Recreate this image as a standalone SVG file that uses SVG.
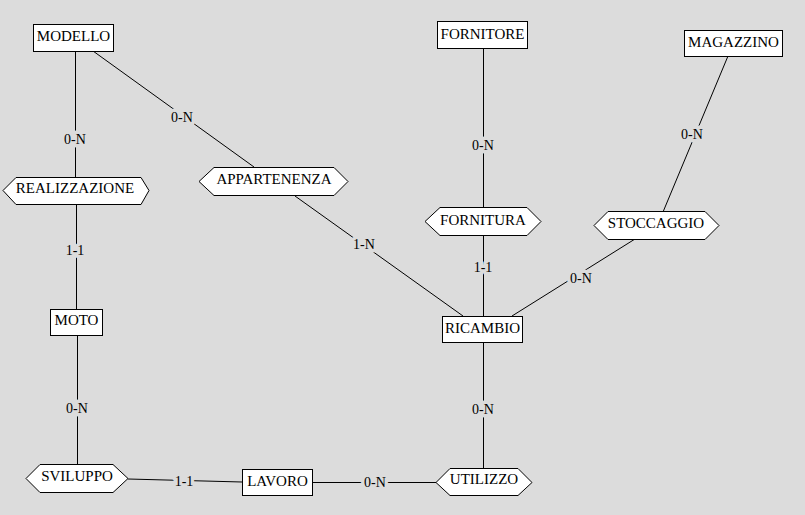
<svg xmlns="http://www.w3.org/2000/svg" width="805" height="515" viewBox="0 0 805 515">
<style>
.bg{fill:#dcdcdc}
.ent rect,.rel polygon{fill:#fff;stroke:#000;stroke-width:1}
.ent text,.rel text{font-family:"Liberation Serif","Times New Roman",serif;font-size:15px;fill:#000;text-anchor:middle}
.conn line{stroke:#000;stroke-width:1}
.lbl{font-family:"Liberation Serif","Times New Roman",serif;font-size:14px;fill:#000;text-anchor:middle;stroke:#dcdcdc;stroke-width:7;paint-order:stroke;stroke-linejoin:round}
</style>
<rect class="bg" x="0" y="0" width="805" height="515"/>
<g id="connectors" class="conn">
<line x1="75.5" y1="51" x2="75.5" y2="177"/>
<line x1="76.5" y1="204" x2="76.5" y2="309"/>
<line x1="77.5" y1="335" x2="77.5" y2="464"/>
<line x1="93" y1="51" x2="254" y2="167"/>
<line x1="295" y1="196" x2="463" y2="316"/>
<line x1="483.5" y1="48" x2="483.5" y2="207"/>
<line x1="483.5" y1="235" x2="483.5" y2="316"/>
<line x1="728" y1="56" x2="663" y2="212"/>
<line x1="635" y1="239" x2="512" y2="316"/>
<line x1="483.5" y1="342" x2="483.5" y2="468"/>
<line x1="128" y1="479" x2="242" y2="482"/>
<line x1="312" y1="482.5" x2="436" y2="482.5"/>
<text class="lbl" x="75" y="144">0-N</text>
<text class="lbl" x="75" y="255">1-1</text>
<text class="lbl" x="77" y="413">0-N</text>
<text class="lbl" x="182" y="122">0-N</text>
<text class="lbl" x="364" y="249">1-N</text>
<text class="lbl" x="483" y="150">0-N</text>
<text class="lbl" x="483" y="272">1-1</text>
<text class="lbl" x="692" y="139">0-N</text>
<text class="lbl" x="581" y="283">0-N</text>
<text class="lbl" x="483" y="414">0-N</text>
<text class="lbl" x="184" y="486">1-1</text>
<text class="lbl" x="375" y="487">0-N</text>
</g>
<g id="MODELLO" class="ent"><rect x="33.5" y="24.5" width="80" height="27"/><text x="73.5" y="41">MODELLO</text></g>
<g id="FORNITORE" class="ent"><rect x="437.5" y="21.5" width="90" height="27"/><text x="482.5" y="38.5">FORNITORE</text></g>
<g id="MAGAZZINO" class="ent"><rect x="684.5" y="30.5" width="98" height="26"/><text x="733.5" y="47">MAGAZZINO</text></g>
<g id="MOTO" class="ent"><rect x="50.5" y="309.5" width="52" height="26"/><text x="76.5" y="325">MOTO</text></g>
<g id="RICAMBIO" class="ent"><rect x="442.5" y="316.5" width="80" height="26"/><text x="482.5" y="333">RICAMBIO</text></g>
<g id="LAVORO" class="ent"><rect x="242.5" y="469.5" width="70" height="26"/><text x="277.5" y="486">LAVORO</text></g>
<g id="REALIZZAZIONE" class="rel"><polygon points="3,190.5 16,177.5 141,177.5 149,190.5 141,204.5 16,204.5"/><text x="75" y="193">REALIZZAZIONE</text></g>
<g id="APPARTENENZA" class="rel"><polygon points="199,181.5 214,167.5 334,167.5 348,181.5 334,195.5 214,195.5"/><text x="274" y="184">APPARTENENZA</text></g>
<g id="FORNITURA" class="rel"><polygon points="425,221.5 440,207.5 527,207.5 541,221.5 527,235.5 440,235.5"/><text x="483" y="225">FORNITURA</text></g>
<g id="STOCCAGGIO" class="rel"><polygon points="594,225.5 608,211.5 705,211.5 719,225.5 705,239.5 608,239.5"/><text x="656" y="228">STOCCAGGIO</text></g>
<g id="SVILUPPO" class="rel"><polygon points="26,478.5 40,464.5 113,464.5 128,478.5 113,492.5 40,492.5"/><text x="77" y="481">SVILUPPO</text></g>
<g id="UTILIZZO" class="rel"><polygon points="436,482.5 450,468.5 518,468.5 532,482.5 518,495.5 450,495.5"/><text x="484" y="484">UTILIZZO</text></g>
</svg>
